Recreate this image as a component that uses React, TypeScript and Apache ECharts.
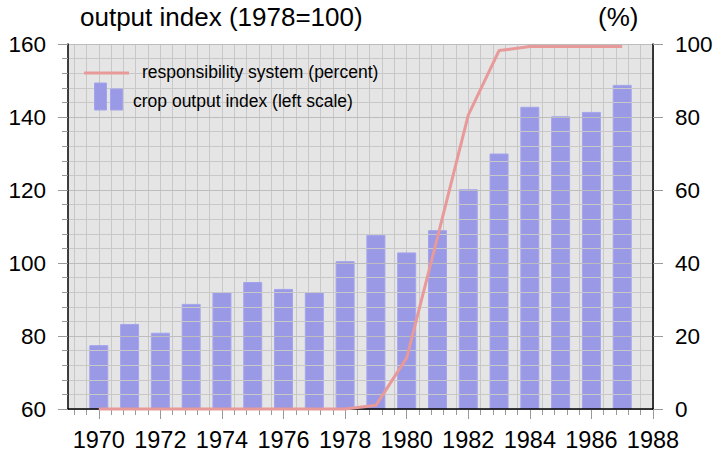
import React, { useEffect, useRef } from "react";
import * as echarts from "echarts";

const years = [1970, 1971, 1972, 1973, 1974, 1975, 1976, 1977, 1978, 1979, 1980, 1981, 1982, 1983, 1984, 1985, 1986, 1987];
const cropIndex = [77.5, 83.3, 80.9, 88.8, 92, 94.8, 92.9, 92, 100.5, 107.7, 102.9, 109, 120.2, 130, 142.8, 140.2, 141.4, 148.8];
const responsibilityPct = [0, 0, 0, 0, 0, 0, 0, 0, 0, 1, 14, 47, 80.5, 98.2, 99.3, 99.3, 99.3, 99.3];
const xTickLabels = ["1970", "1972", "1974", "1976", "1978", "1980", "1982", "1984", "1986", "1988"];
const leftTicks = [60, 80, 100, 120, 140, 160];
const rightTicks = [0, 20, 40, 60, 80, 100];

const X_MIN = 1969;
const X_MAX = 1988;
const X_STEP = 0.2;

const FONT = "Liberation Sans";
const BAR_COLOR = "#9999e6";
const LINE_COLOR = "#e89999";
const TICK_COLOR = "#999999";

export default function App() {
  const ref = useRef<HTMLDivElement>(null);

  useEffect(() => {
    document.body.style.margin = "0";
    if (!ref.current) return;
    const chart = echarts.init(ref.current, undefined, { renderer: "svg" });

    const nSteps = Math.round((X_MAX - X_MIN) / X_STEP);
    const tickCats: string[] = [];
    for (let i = 0; i <= nSteps; i++) tickCats.push((X_MIN + i * X_STEP).toFixed(1));
    const isMinor = (i: number) => i % 2 === 1;
    const isMajor = (i: number) => xTickLabels.includes(String(Math.round(Number(tickCats[i]) * 10) / 10));

    const option: any = {
      animation: false,
      grid: {
        left: 68,
        right: 63,
        top: 44,
        bottom: 46,
        show: true,
        backgroundColor: "#e5e5e5",
        borderWidth: 0,
      },
      xAxis: [
        {
          type: "value",
          min: X_MIN,
          max: X_MAX,
          position: "bottom",
          axisLine: { show: true, onZero: false, lineStyle: { color: "#000", width: 1.5 } },
          axisTick: { show: false },
          axisLabel: { show: false },
          splitLine: { show: false },
          z: 3,
        },
        {
          type: "category",
          data: tickCats,
          boundaryGap: false,
          position: "bottom",
          axisLine: { show: false },
          axisTick: { show: true, interval: (i: number) => isMinor(i), length: 6, lineStyle: { color: TICK_COLOR } },
          axisLabel: { show: false },
          splitLine: { show: true, interval: (i: number) => isMinor(i), lineStyle: { color: "#c8c8c8", width: 1 } },
          z: 1,
        },
        {
          type: "category",
          data: tickCats,
          boundaryGap: false,
          position: "bottom",
          axisLine: { show: false },
          axisTick: { show: true, interval: (i: number) => isMajor(i), length: 10, lineStyle: { color: TICK_COLOR } },
          axisLabel: {
            show: true,
            interval: (i: number) => isMajor(i),
            formatter: (v: string) => String(Math.round(Number(v))),
            fontFamily: FONT,
            fontSize: 23.5,
            color: "#000",
            margin: 19,
          },
          splitLine: { show: false },
          z: 1,
        },
      ],
      yAxis: [
        {
          type: "value",
          min: leftTicks[0],
          max: leftTicks[leftTicks.length - 1],
          interval: 20,
          position: "left",
          axisLine: { show: true, lineStyle: { color: "#000", width: 1.5 } },
          axisTick: { show: true, length: 10, lineStyle: { color: TICK_COLOR } },
          minorTick: { show: true, splitNumber: 5, length: 6, lineStyle: { color: TICK_COLOR } },
          axisLabel: { fontFamily: FONT, fontSize: 22.5, color: "#000", margin: 22 },
          splitLine: { show: true, lineStyle: { color: "#bdbdbd", width: 1.2 } },
          minorSplitLine: { show: true, lineStyle: { color: "#c8c8c8", width: 1 } },
          z: 3,
        },
        {
          type: "value",
          min: rightTicks[0],
          max: rightTicks[rightTicks.length - 1],
          interval: 20,
          position: "right",
          axisLine: { show: true, lineStyle: { color: "#000", width: 1.5 } },
          axisTick: { show: true, length: 10, lineStyle: { color: TICK_COLOR } },
          axisLabel: { fontFamily: FONT, fontSize: 22.5, color: "#000", margin: 22 },
          splitLine: { show: false },
          z: 3,
        },
      ],
      series: [
        {
          type: "bar",
          name: "crop output index (left scale)",
          xAxisIndex: 0,
          yAxisIndex: 0,
          barWidth: 19,
          data: years.map((y, i) => [y, cropIndex[i]]),
          itemStyle: { color: BAR_COLOR, borderColor: "#a4a4ec", borderWidth: 1 },
          z: 2,
        },
        {
          type: "line",
          name: "responsibility system (percent)",
          xAxisIndex: 0,
          yAxisIndex: 1,
          data: years.map((y, i) => [y, responsibilityPct[i]]),
          symbol: "none",
          clip: false,
          lineStyle: { color: LINE_COLOR, width: 3 },
          z: 5,
        },
      ],
      graphic: [
        {
          type: "text",
          left: 80,
          top: 4,
          style: { text: "output index (1978=100)", fontFamily: FONT, fontSize: 26, fill: "#000" },
        },
        {
          type: "text",
          left: 598,
          top: 4,
          style: { text: "(%)", fontFamily: FONT, fontSize: 26, fill: "#000" },
        },
        {
          type: "line",
          shape: { x1: 84, y1: 73, x2: 129, y2: 73 },
          style: { stroke: LINE_COLOR, lineWidth: 3 },
          z: 10,
        },
        {
          type: "text",
          x: 142,
          y: 72,
          style: { text: "responsibility system (percent)", fontFamily: FONT, fontSize: 17.5, fill: "#000", verticalAlign: "middle" },
          z: 10,
        },
        {
          type: "rect",
          shape: { x: 94.5, y: 83, width: 12, height: 27 },
          style: { fill: BAR_COLOR, stroke: "#a4a4ec", lineWidth: 1 },
          z: 10,
        },
        {
          type: "rect",
          shape: { x: 110.5, y: 89, width: 12, height: 21 },
          style: { fill: BAR_COLOR, stroke: "#a4a4ec", lineWidth: 1 },
          z: 10,
        },
        {
          type: "text",
          x: 133,
          y: 101,
          style: { text: "crop output index (left scale)", fontFamily: FONT, fontSize: 17.5, fill: "#000", verticalAlign: "middle" },
          z: 10,
        },
      ],
    };

    chart.setOption(option);
    return () => chart.dispose();
  }, []);

  return <div ref={ref} style={{ width: 716, height: 455 }} />;
}
